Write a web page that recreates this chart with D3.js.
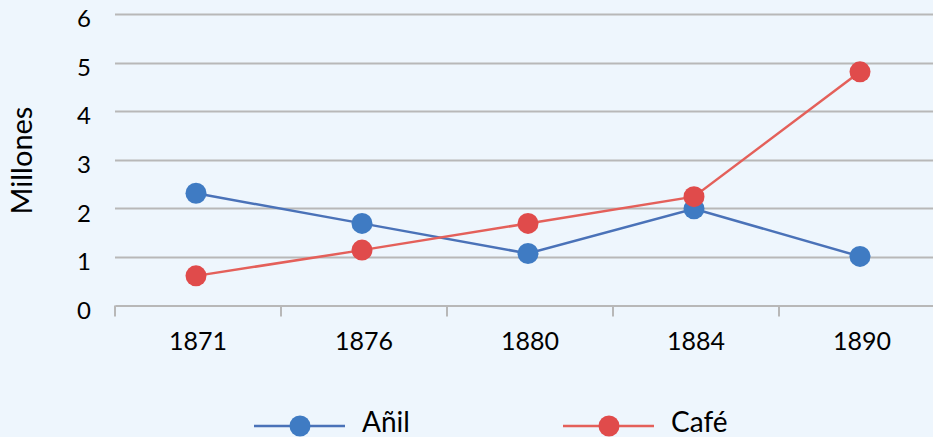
<!DOCTYPE html>
<html>
<head>
<meta charset="utf-8">
<script src="https://cdn.jsdelivr.net/npm/d3@7"></script>
<style>
  html, body { margin: 0; padding: 0; background: #EEF6FD; }
  svg { display: block; }
  text { font-family: Lato, "Open Sans", sans-serif; fill: #000; }
</style>
</head>
<body>
<script>
// Exportaciones de El Salvador (millones)
const years = ["1871", "1876", "1880", "1884", "1890"];
const anil = [2.31, 1.69, 1.07, 1.99, 1.01];
const cafe = [0.61, 1.14, 1.69, 2.24, 4.81];
const yTicks = [0, 1, 2, 3, 4, 5, 6];
const seriesNames = ["Añil", "Café"];
const seriesColors = { line: ["#4A72B8", "#E4605A"], dot: ["#3F7BC3", "#E04B4B"] };

const W = 933, H = 437;
const svg = d3.select("body").append("svg").attr("width", W).attr("height", H);

const x = d3.scaleBand().domain(years).range([115, 945]);
const y = d3.scaleLinear().domain([0, 6]).range([305.5, 14]);

// horizontal gridlines
svg.append("g").selectAll("line").data(yTicks.filter(d => d > 0)).join("line")
  .attr("x1", 115).attr("x2", W)
  .attr("y1", d => Math.round(y(d)) + 0.5).attr("y2", d => Math.round(y(d)) + 0.5)
  .attr("stroke", "#B8B8B8").attr("stroke-width", 2);

// category axis
const xAxis = svg.append("g").attr("transform", `translate(0,${y(0)})`)
  .call(d3.axisBottom(x).tickSize(0));
xAxis.select(".domain").attr("stroke", "#B8B8B8").attr("stroke-width", 2);
xAxis.selectAll(".tick text")
  .attr("y", 44.5).attr("dy", 0)
  .style("font-size", "25px");
// tick marks between categories
xAxis.append("g").selectAll("line").data(years).join("line")
  .attr("x1", d => x(d)).attr("x2", d => x(d))
  .attr("y1", 0).attr("y2", 11)
  .attr("stroke", "#B8B8B8").attr("stroke-width", 2);

// value axis labels
const yAxis = svg.append("g").attr("transform", "translate(91,0)")
  .call(d3.axisLeft(y).tickValues(yTicks).tickFormat(d3.format("d")).tickSize(0).tickPadding(0));
yAxis.select(".domain").remove();
yAxis.selectAll(".tick text")
  .attr("y", 12.7).attr("dy", 0)
  .style("font-size", "24px");

svg.append("text")
  .attr("transform", "translate(32,160.5) rotate(-90)")
  .attr("text-anchor", "middle")
  .style("font-size", "29px")
  .text("Millones");

const cx = d => x(d) + x.bandwidth() / 2 - 2;
const line = d3.line().x((d, i) => cx(years[i])).y(d => y(d));

[anil, cafe].forEach((vals, s) => {
  svg.append("path").datum(vals)
    .attr("d", line)
    .attr("fill", "none")
    .attr("stroke", seriesColors.line[s])
    .attr("stroke-width", 2.5);
});
[anil, cafe].forEach((vals, s) => {
  svg.append("g").selectAll("circle").data(vals).join("circle")
    .attr("cx", (d, i) => cx(years[i]))
    .attr("cy", d => y(d))
    .attr("r", 10.5)
    .attr("fill", seriesColors.dot[s]);
});

// legend
const legendX = [254, 563];
seriesNames.forEach((name, s) => {
  const g = svg.append("g").attr("transform", `translate(${legendX[s]},426)`);
  g.append("line").attr("x1", 0).attr("x2", 91).attr("y1", 0).attr("y2", 0)
    .attr("stroke", seriesColors.line[s]).attr("stroke-width", 2.5);
  g.append("circle").attr("cx", 46).attr("cy", 0).attr("r", 10.5)
    .attr("fill", seriesColors.dot[s]);
  g.append("text").attr("x", 108).attr("y", 5.5)
    .style("font-size", "28px").text(name);
});
</script>
</body>
</html>
